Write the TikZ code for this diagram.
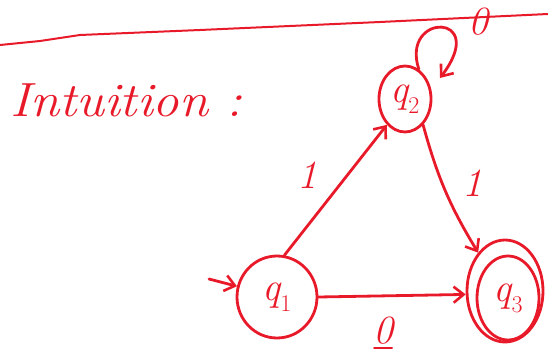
\documentclass[tikz,border=0pt]{standalone}
\usetikzlibrary{arrows.meta,shapes.geometric}
\definecolor{ink}{RGB}{232,26,42}
\newcommand\stlabel[1]{{\itshape q}\raisebox{-0.28em}{\fontsize{24}{24}\selectfont #1}}
\tikzset{
  pen/.style={draw=ink,line width=2.8pt,line cap=round,line join=round},
  state/.style={pen,ellipse,inner sep=0pt,text=ink,font=\fontsize{40}{40}\selectfont},
  edge/.style={pen,-{Straight Barb[length=10pt,width=16pt,line width=2.6pt]}},
  lbl/.style={text=ink,font=\itshape\fontsize{40}{40}\selectfont,inner sep=0pt}
}
\begin{document}
\begin{tikzpicture}[x=1pt,y=-1pt]
\useasboundingbox (0,0) rectangle (548,358);
% horizontal rule
\draw[pen,line width=2pt] (0,45) -- (40,41) -- (80,35) -- (200,30) -- (380,22) -- (548,14);
% heading
\node[text=ink,font=\itshape\fontsize{48}{48}\selectfont,anchor=base west,xscale=1.1,transform shape,inner sep=0pt] (title) at (10,117) {Intuition :};
% states
\node[state,minimum width=52pt,minimum height=66pt] (q2) at (405,99) {\stlabel{2}};
\node[state,minimum width=80pt,minimum height=82pt] (q1) at (277,297) {\stlabel{1}};
\node[state,minimum width=76pt,minimum height=102pt] (q3o) at (505,291) {};
\node[state,minimum width=62pt,minimum height=84pt] (q3) at (508,298) {\stlabel{3}};
% start arrow
\coordinate (start) at (209,279);
\draw[edge] (start) -- (q1.165);
% transitions
\draw[edge] (q1.80) -- (q2.235);
\node[lbl] (l12) at (307,175) {1};
\draw[edge] (q2.305) to[bend right=8] (q3o.125);
\node[lbl] (l23) at (472,183) {1};
\draw[edge] (q1.east) -- (q3o.185);
\node[lbl] (l13) at (383,331) {0};
\draw[pen,line width=2pt] ([xshift=-9pt,yshift=-3pt]l13.south) -- ([xshift=9pt,yshift=-3pt]l13.south);
% self loop on q2
\draw[edge] (q2.65) .. controls (400,12) and (490,12) .. (440,78);
\node[lbl] (l22) at (478,22) {0};
\end{tikzpicture}
\end{document}
